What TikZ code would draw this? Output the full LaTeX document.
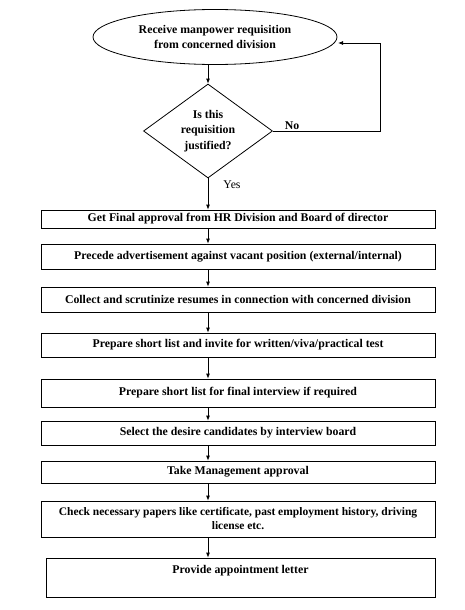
\documentclass[tikz,border=0pt]{standalone}
\usepackage{fontspec}
\setmainfont{Liberation Serif}
\usetikzlibrary{shapes.geometric,arrows.meta}
\begin{document}
\begin{tikzpicture}[x=1pt,y=-1pt,
  every node/.style={font=\fontsize{11.8}{15}\selectfont\bfseries},
  box/.style={draw, line width=0.8pt, minimum width=394pt, inner sep=0pt, align=center},
  arr/.style={-{Latex[length=5pt,width=4pt]}, line width=0.8pt},
  lbl/.style={inner sep=0pt}]
\useasboundingbox (0,0) rectangle (464,610);
\node[draw, line width=0.8pt, ellipse, minimum width=244pt, minimum height=55pt, inner sep=0pt, align=center] (e) at (215,37) {Receive manpower requisition\\from concerned division};
\node[draw, line width=0.8pt, diamond, aspect=1.37, minimum width=129pt, minimum height=94pt, inner sep=0pt, align=center, font=\fontsize{11.8}{15.5}\selectfont\bfseries] (d) at (208,131) {Is this\\requisition\\justified?};
\node[box, minimum height=18pt] (b1) at (238,219) {Get Final approval from HR Division and Board of director};
\node[box, minimum height=25pt] (b2) at (238,256.5) {Precede advertisement against vacant position (external/internal)};
\node[box, minimum height=25pt] (b3) at (238,299.5) {Collect and scrutinize resumes in connection with concerned division};
\node[box, minimum height=24pt] (b4) at (238,345) {Prepare short list and invite for written/viva/practical test};
\node[box, minimum height=28pt] (b5) at (238,393) {Prepare short list for final interview if required};
\node[box, minimum height=24pt] (b6) at (238,433) {Select the desire candidates by interview board};
\node[box, minimum height=22pt] (b7) at (238,472) {Take Management approval};
\node[box, minimum height=36pt, font=\fontsize{11.5}{14}\selectfont\bfseries] (b8) at (238,519) {Check necessary papers like certificate, past employment history, driving\\license etc.};
\node[box, minimum width=389pt, minimum height=39pt] (b9) at (240.5,577.5) {};
\node[lbl] (t9) at (240.5,571) {Provide appointment letter};
\node[lbl] (yes) at (232,185) {\mdseries Yes};
\node[lbl] (no) at (292,126) {No};
\coordinate (r) at (380,132);
\coordinate (ex) at (338,43);
\draw[arr] (e.south -| d.north) -- (d.north);
\draw[arr] (d.south) -- (b1.north -| d.south);
\draw[arr] (b1.south -| d.south) -- (b2.north -| d.south);
\draw[arr] (b2.south -| d.south) -- (b3.north -| d.south);
\draw[arr] (b3.south -| d.south) -- (b4.north -| d.south);
\draw[arr] (b4.south -| d.south) -- (b5.north -| d.south);
\draw[arr] (b5.south -| d.south) -- (b6.north -| d.south);
\draw[arr] (b6.south -| d.south) -- (b7.north -| d.south);
\draw[arr] (b7.south -| d.south) -- (b8.north -| d.south);
\draw[arr] (b8.south -| d.south) -- (b9.north -| d.south);
\draw[arr] (d.east) -- (d.east -| r) -- (r |- ex) -- (ex);
\end{tikzpicture}
\end{document}
